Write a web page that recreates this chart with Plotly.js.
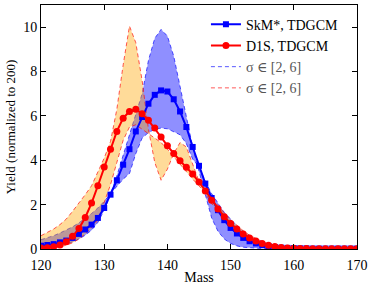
<!DOCTYPE html>
<html>
<head>
<meta charset="utf-8">
<script src="https://cdn.plot.ly/plotly-3.0.1.min.js"></script>
<style>html,body{margin:0;padding:0;background:#fff}#chart{width:374px;height:288px}</style>
</head>
<body>
<div id="chart"></div>
<script>
// Mass numbers 120..170
const mass = [120,121,122,123,124,125,126,127,128,129,130,131,132,133,134,135,136,137,138,139,140,141,142,143,144,145,146,147,148,149,150,151,152,153,154,155,156,157,158,159,160,161,162,163,164,165,166,167,168,169,170];

// SkM*, TDGCM (blue squares)
const skm = [0.15,0.18,0.22,0.3,0.38,0.5,0.68,0.88,1.1,1.4,1.85,2.45,3.1,3.8,4.5,5.3,5.95,6.55,6.95,7.15,7.1,6.75,6.2,5.5,4.6,3.75,2.95,2.3,1.75,1.3,0.95,0.7,0.5,0.35,0.25,0.18,0.13,0.09,0.06,0.05,0.04,0.03,0.03,0.02,0.02,0.02,0.02,0.02,0.02,0.02,0.02];

// D1S, TDGCM (red circles)
const d1s = [0.05,0.06,0.1,0.18,0.33,0.57,0.92,1.42,2.07,2.85,3.7,4.5,5.3,5.9,6.2,6.3,6.1,5.8,5.45,5.05,4.65,4.3,3.98,3.68,3.38,3.02,2.62,2.2,1.8,1.45,1.15,0.9,0.68,0.5,0.36,0.25,0.17,0.11,0.07,0.05,0.03,0.02,0.02,0.01,0.01,0.01,0.01,0.01,0.01,0.01,0.01];

// SkM* band, sigma in [2,6]: two boundary curves
const skmBandA = [0.42,0.5,0.6,0.72,0.86,1.0,1.18,1.38,1.6,1.85,2.15,2.5,2.85,3.15,3.4,4.3,5.0,5.25,5.4,5.45,5.42,5.3,5.15,4.75,4.05,3.7,3.05,2.5,2.05,1.65,1.35,1.05,0.8,0.6,0.45,0.33,0.24,0.17,0.12,0.08,0.06,0.04,0.03,0.03,0.03,0.03,0.03,0.03,0.03,0.03,0.03];
const skmBandB = [0.05,0.07,0.1,0.15,0.22,0.32,0.45,0.62,0.85,1.2,1.75,2.45,3.3,4.2,5.1,6.0,7.0,8.5,9.5,9.9,9.6,8.7,7.3,5.9,4.6,3.5,2.4,1.4,0.8,0.45,0.25,0.14,0.08,0.05,0.03,0.02,0.02,0.02,0.02,0.02,0.02,0.02,0.02,0.02,0.02,0.02,0.02,0.02,0.02,0.02,0.02];

// D1S band, sigma in [2,6]: two boundary curves
const d1sBandA = [0.02,0.03,0.06,0.1,0.17,0.28,0.45,0.68,0.95,1.3,2.1,2.9,3.9,4.9,5.5,5.6,5.4,5.2,5.0,4.8,4.5,4.15,3.8,3.45,3.15,2.85,2.5,2.05,1.65,1.3,1.0,0.75,0.55,0.4,0.28,0.19,0.13,0.08,0.05,0.03,0.02,0.02,0.01,0.01,0.01,0.01,0.01,0.01,0.01,0.01,0.01];
const d1sBandB = [0.6,0.75,0.9,1.1,1.35,1.7,2.05,2.45,2.85,3.45,4.1,4.85,6.3,8.3,10.05,9.3,7.6,5.4,3.9,3.1,3.6,4.3,4.8,4.6,3.8,3.05,2.65,2.3,1.95,1.62,1.32,1.05,0.82,0.62,0.46,0.33,0.23,0.16,0.11,0.07,0.05,0.03,0.02,0.02,0.02,0.02,0.02,0.02,0.02,0.02,0.02];

const xTicks = [120,130,140,150,160,170];
const yTicks = [0,2,4,6,8,10];

const serif = "Liberation Serif, DejaVu Serif, serif";
const bandBlueLine = 'rgba(0,0,255,0.65)';
const bandRedLine = 'rgba(255,0,0,0.65)';
const sigmaLabel = '<span style="color:#555">σ ∈ [2, 6]</span>';
const dashStyle = '4px,3px';

const traces = [
  {x: mass, y: skmBandA, mode: 'lines', line: {color: bandBlueLine, width: 1, dash: dashStyle}, name: sigmaLabel, legendrank: 3},
  {x: mass, y: skmBandB, mode: 'lines', line: {color: bandBlueLine, width: 1, dash: dashStyle}, fill: 'tonexty', fillcolor: 'rgba(0,0,255,0.44)', showlegend: false},
  {x: mass, y: d1sBandA, mode: 'lines', line: {color: bandRedLine, width: 1, dash: dashStyle}, name: sigmaLabel, legendrank: 4},
  {x: mass, y: d1sBandB, mode: 'lines', line: {color: bandRedLine, width: 1, dash: dashStyle}, fill: 'tonexty', fillcolor: 'rgba(255,165,0,0.4)', showlegend: false},
  {x: mass, y: skm, mode: 'lines+markers', line: {color: '#0000ff', width: 2}, marker: {symbol: 'square', size: 6, color: '#0000ff'}, name: 'SkM*, TDGCM', legendrank: 1},
  {x: mass, y: d1s, mode: 'lines+markers', line: {color: '#ff0000', width: 2}, marker: {symbol: 'circle', size: 7, color: '#ff0000'}, name: 'D1S, TDGCM', legendrank: 2}
];

const layout = {
  width: 374, height: 288,
  margin: {l: 40.5, r: 17, t: 5, b: 38.5},
  paper_bgcolor: '#fff', plot_bgcolor: '#fff',
  font: {family: serif, size: 14, color: '#000'},
  showlegend: true,
  legend: {x: 0.522, y: 0.985, xanchor: 'left', yanchor: 'top', traceorder: 'normal', bgcolor: 'rgba(0,0,0,0)', font: {family: serif, size: 14}, itemwidth: 30, tracegroupgap: 0},
  xaxis: {
    range: [120, 170], tickvals: xTicks, ticktext: xTicks.map(String),
    ticks: 'inside', ticklen: 5, tickcolor: '#000', mirror: 'ticks', showline: true, linecolor: '#000', linewidth: 1,
    showgrid: false, zeroline: false, tickfont: {family: serif, size: 14}, ticklabelstandoff: 3,
    title: {text: 'Mass', font: {family: serif, size: 14}, standoff: 0}
  },
  yaxis: {
    range: [0, 11], tickvals: yTicks, ticktext: yTicks.map(String),
    ticks: 'inside', ticklen: 5, tickcolor: '#000', mirror: 'ticks', showline: true, linecolor: '#000', linewidth: 1,
    showgrid: false, zeroline: false, tickfont: {family: serif, size: 14},
    title: {text: 'Yield (normalized to 200)', font: {family: serif, size: 13}, standoff: 4}
  }
};

Plotly.newPlot('chart', traces, layout, {displayModeBar: false, staticPlot: true});
</script>
</body>
</html>
